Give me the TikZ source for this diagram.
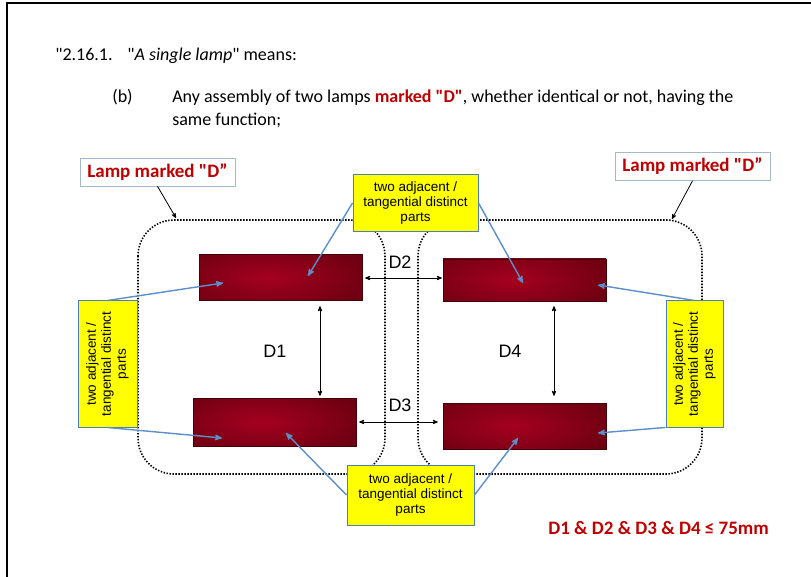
\documentclass[tikz,border=0pt]{standalone}
\usepackage{fontspec}
\setmainfont{Carlito}[Ligatures=TeXOff]
\newfontfamily\arialfont{Liberation Sans}
\usetikzlibrary{arrows,positioning,calc}
\definecolor{lampdark}{HTML}{66000F}
\definecolor{lampred}{HTML}{A5001F}
\definecolor{callyellow}{HTML}{FFFF00}
\definecolor{callblue}{HTML}{4F7DB8}
\definecolor{leadblue}{HTML}{5B8FCB}
\definecolor{markred}{HTML}{C00000}
\definecolor{labelgray}{HTML}{A5B9CC}
\newcommand{\dquote}{\symbol{34}}

\begin{document}
\begin{tikzpicture}[x=1pt, y=-1pt, >=stealth', semithick]
\tikzstyle{lamp}=[draw=lampdark!70!black, thin, fill=lampdark, minimum width=163pt, inner sep=0pt,
  path picture={\shade[inner color=lampred, outer color=lampdark] ($(path picture bounding box.center)+(-12,0)$) ellipse [x radius=120pt, y radius=40pt];}]
\tikzstyle{callout}=[draw=callblue, line width=1pt, fill=callyellow, align=center, inner sep=0pt, font=\arialfont\fontsize{13.5}{15}\selectfont]
\tikzstyle{marklabel}=[draw=labelgray, fill=white, minimum width=155pt, minimum height=28pt, text=markred, font=\bfseries\fontsize{19}{22}\selectfont]
\tikzstyle{bodytext}=[anchor=base west, inner sep=0pt, font=\fontsize{18}{21}\selectfont]
\tikzstyle{dimlabel}=[font=\arialfont\fontsize{18}{21}\selectfont]
\tikzstyle{dim}=[<->, thick, black]
\tikzstyle{lead}=[->, leadblue, line width=1.4pt]
\tikzstyle{group}=[black, line width=1.6pt, dash pattern=on 1.4pt off 1.6pt, rounded corners=36pt]

\useasboundingbox (0,0) rectangle (811,577);

% page frame
\draw[line width=1.6pt] (7,577) -- (7,3) -- (811,3);

% heading text
\node[bodytext] (num)  at (55,61)  {\dquote2.16.1.};
\node[bodytext] (defn) at (127,61) {\dquote\textit{A single lamp}\dquote{} means:};
\node[bodytext] (item) at (112,103) {(b)};
\node[bodytext] (line1) at (172,103) {Any assembly of two lamps \textcolor{markred}{\textbf{marked \dquote D\dquote}}, whether identical or not, having the};
\node[bodytext] (line2) at (172,126) {same function;};

% the two lamps marked D
\draw[group] (138,220) rectangle (385,474);
\draw[group] (418,220) rectangle (702,474);

% lamp parts
\node[lamp, minimum height=46pt] (TL) at (280.5,277.5) {};
\node[lamp, minimum height=42pt] (TR) at (524.5,280)   {};
\node[lamp, minimum height=48pt] (BL) at (274.5,422)   {};
\node[lamp, minimum height=46pt] (BR) at (524.5,426)   {};

% distances
\draw[dim] ([xshift=3pt]TL.east |- 0,278) -- ([xshift=-1pt]TR.west |- 0,278);
\draw[dim] ([xshift=3pt]BL.east) -- ([xshift=-5pt]BL.east -| BR.west);
\draw[dim] ($(TL.south)+(39.5,5.5)$) -- ($(BL.north)+(45.5,-2)$);
\draw[dim] ($(TR.south)+(29.5,5)$) -- ($(BR.north)+(29.5,-7)$);
\node[dimlabel] (D1) at (275,351) {D1};
\node[dimlabel] (D2) at (400,262) {D2};
\node[dimlabel] (D3) at (400,405) {D3};
\node[dimlabel] (D4) at (510,351) {D4};

% labels
\node[marklabel] (markL) at (157.5,172)   {Lamp marked \dquote D”};
\node[marklabel] (markR) at (692.5,166.5) {Lamp marked \dquote D”};
\coordinate (cornerL) at (176,218);
\coordinate (cornerR) at (672,219);
\draw[->, thick] (markL.south) -- (cornerL);
\draw[->, thick] (markR.south) -- (cornerR);

% callouts
\node[callout, minimum width=125pt, minimum height=57pt] (topC) at (415.5,203) {two adjacent /\\tangential distinct\\parts};
\node[callout, minimum width=127pt, minimum height=60pt] (botC) at (410.5,495) {two adjacent /\\tangential distinct\\parts};
\node[callout, rotate=90, minimum width=126pt, minimum height=59pt] (leftC) at (107.5,364) {two adjacent /\\tangential distinct\\parts};
\node[callout, rotate=90, minimum width=126pt, minimum height=57pt] (rightC) at (694.5,364) {two adjacent /\\tangential distinct\\parts};

% arrow targets inside the lamps
\coordinate (tTL1) at (308,276);
\coordinate (tTL2) at (223,283);
\coordinate (tTR1) at (523,283);
\coordinate (tTR2) at (598,285);
\coordinate (tBL1) at (222,438);
\coordinate (tBL2) at (286,433);
\coordinate (tBR1) at (518,438);
\coordinate (tBR2) at (598,433);

\draw[lead] (topC.west) -- (tTL1);
\draw[lead] (topC.east) -- (tTR1);
\draw[lead] (leftC.east) -- (tTL2);
\draw[lead] (leftC.west) -- (tBL1);
\draw[lead] (rightC.east) -- (tTR2);
\draw[lead] (rightC.north west) -- (tBR2);
\draw[lead] (botC.west) -- (tBL2);
\draw[lead] (botC.east) -- (tBR1);

% limit
\node[bodytext, text=markred, font=\bfseries\fontsize{19}{22}\selectfont] (limit) at (548,534) {D1 \& D2 \& D3 \& D4 ≤ 75mm};
\end{tikzpicture}
\end{document}
